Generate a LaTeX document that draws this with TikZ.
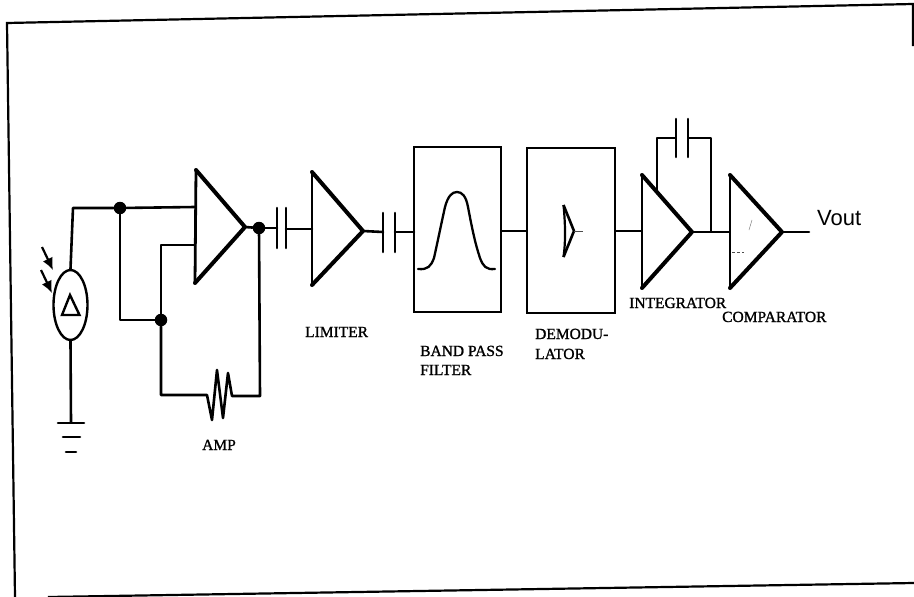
\documentclass[tikz,border=0pt]{standalone}
\usepackage{fontspec}
\setmainfont[FakeBold=1.2]{Liberation Serif}
\newfontfamily\vfont{Liberation Sans}
\usetikzlibrary{arrows.meta,shapes.geometric}
\tikzset{
  wire/.style={line width=2.6pt,line join=round,line cap=round},
  thinwire/.style={line width=2.1pt,line join=round},
  plate/.style={line width=2.6pt,line cap=round},
  amptri/.style={line width=2.8pt,line join=round,line cap=round},
  slant/.style={line width=4pt,line cap=round,line join=round},
  block/.style={draw,line width=2.8pt,minimum width=0pt,inner sep=0pt},
  lbl/.style={anchor=base west,inner sep=0pt,font=\fontsize{15.5}{16}\selectfont},
  dot/.style={circle,fill=black,inner sep=0pt,minimum size=12.5pt},
  frameline/.style={line width=2.2pt,line join=miter},
  ray/.style={line width=2.2pt,-{Latex[length=12pt,width=11pt]}},
}
\begin{document}
\begin{tikzpicture}[x=1pt,y=-1pt]
\useasboundingbox (0,0) rectangle (914,597);
% frame
\coordinate (fTR) at (913,46);
\coordinate (fTRc) at (913,4);
\coordinate (fTL) at (7,23);
\coordinate (fBL) at (15,597);
\coordinate (fBs) at (48,597);
\coordinate (fBR) at (914,583);
\draw[frameline] (fTR) -- (fTRc) -- (fTL) -- (fBL);
\draw[frameline] (fBs) -- (fBR);
% photodiode
\node[draw,line width=2.4pt,ellipse,minimum width=34pt,minimum height=70pt,inner sep=0pt] (pd) at (70.5,305) {};
\coordinate (d1) at (70,295); \coordinate (d2) at (79.5,315); \coordinate (d3) at (62,315);
\draw[line width=2.4pt,line join=miter] (d1) -- (d2) -- (d3) -- cycle;
\coordinate (r1a) at (42,247); \coordinate (r1b) at (53,270);
\coordinate (r2a) at (41,270); \coordinate (r2b) at (52,293);
\draw[ray] (r1a) -- (r1b);
\draw[ray] (r2a) -- (r2b);
% ground
\coordinate (g0) at (71,422);
\coordinate (g1a) at (58,423); \coordinate (g1b) at (84,423);
\coordinate (g2a) at (63,437); \coordinate (g2b) at (80,437);
\coordinate (g3a) at (66,452); \coordinate (g3b) at (76,452);
\draw[wire] (pd.south) -- (g0);
\draw[wire] (g1a) -- (g1b);
\draw[wire] (g2a) -- (g2b);
\draw[wire] (g3a) -- (g3b);
% amp
\coordinate (a1) at (196,170); \coordinate (a2) at (245,227); \coordinate (a3) at (195,283);
\draw[amptri] (a1) -- (a3);
\draw[slant] (a1) -- (a2) -- (a3);
\coordinate (ain1) at (195,207); \coordinate (ain2) at (195,245);
\coordinate (tc) at (73,208);
\node[dot] (j1) at (120,208) {};
\node[dot] (j2) at (161,320) {};
\node[dot] (j3) at (259,228) {};
\draw[wire] (pd.north) -- (tc) -- (j1) -- (ain1);
\draw[wire] (j1) -- (120,320) -- (j2);
\draw[wire] (ain2) -- (161,245) -- (j2);
\draw[wire] (j2) -- (161,395) -- (207,395) -- (212,420) -- (217,370) -- (223,418) -- (228,373) -- (232,396) -- (260,396) -- (j3);
\draw[wire] (a2) -- (j3);
% cap 1
\coordinate (c1a) at (277,208); \coordinate (c1b) at (277,248);
\coordinate (c1c) at (286,208); \coordinate (c1d) at (286,248);
\draw[plate] (c1a) -- (c1b);
\draw[plate] (c1c) -- (c1d);
\draw[wire] (j3) -- (277,228);
% limiter
\coordinate (l1) at (312,172); \coordinate (l2) at (363,231); \coordinate (l3) at (312,285);
\draw[amptri] (l1) -- (l3);
\draw[slant] (l1) -- (l2) -- (l3);
\draw[wire] (286,229) -- (312,229);
% cap 2
\coordinate (c2a) at (383,213); \coordinate (c2b) at (383,252);
\coordinate (c2c) at (395,213); \coordinate (c2d) at (395,252);
\draw[plate] (c2a) -- (c2b);
\draw[plate] (c2c) -- (c2d);
\draw[wire] (l2) -- (383,232);
% band pass
\node[block,minimum width=87pt,minimum height=165pt] (bpf) at (457.5,229.5) {};
\draw[wire] (395,232) -- (414,232);
\coordinate (b0) at (418,269); \coordinate (b1) at (495,269);
\draw[line width=2.3pt,line cap=round] (b0) .. controls (428,270) and (431,266) .. (434,258)
  .. controls (438,240) and (441,225) .. (445,207)
  .. controls (448,196) and (452,192) .. (457,192)
  .. controls (462,192) and (466,196) .. (468,207)
  .. controls (472,228) and (475,243) .. (480,258)
  .. controls (483,266) and (486,270) .. (b1);
% demodulator
\node[block,minimum width=88pt,minimum height=165pt] (dem) at (571,230.5) {};
\draw[wire] (bpf.east |- 0,231) -- (dem.west |- 0,231);
\coordinate (s1) at (563.5,205); \coordinate (s2) at (574,231); \coordinate (s3) at (563.5,257);
\coordinate (s4) at (583,231);
\draw[line width=2.2pt,line join=round] (s1) .. controls (565,220) and (566,240) .. (s3);
\draw[line width=2.6pt,line join=round] (s1) -- (s2) -- (s3);
\draw[line width=0.6pt,black!70] (s2) -- (s4);
% integrator
\coordinate (i1) at (642,175); \coordinate (i2) at (692,232); \coordinate (i3) at (642,288);
\draw[amptri] (i1) -- (i3);
\draw[slant] (i1) -- (i2) -- (i3);
\draw[thinwire] (dem.east |- 0,231) -- (642,231);
% feedback
\coordinate (fb0) at (657,192); \coordinate (fb1) at (657,138);
\coordinate (fb2) at (711,138); \coordinate (fb3) at (711,232);
\coordinate (c3a) at (676,119); \coordinate (c3b) at (676,157);
\coordinate (c3c) at (688,119); \coordinate (c3d) at (688,157);
\draw[plate] (c3a) -- (c3b);
\draw[plate] (c3c) -- (c3d);
\draw[thinwire] (fb0) -- (fb1) -- (676,138);
\draw[thinwire] (688,138) -- (fb2) -- (fb3);
% comparator
\coordinate (k1) at (730,175); \coordinate (k2) at (782,232); \coordinate (k3) at (730,288);
\draw[amptri] (k1) -- (k3);
\draw[slant] (k1) -- (k2) -- (k3);
\draw[thinwire] (i2) -- (730,232);
\coordinate (kd1) at (732,252); \coordinate (kd2) at (744,252);
\draw[line width=0.8pt,dash pattern=on 3pt off 2pt,black!70] (kd1) -- (kd2);
\coordinate (ke1) at (749,230); \coordinate (ke2) at (752,220);
\draw[line width=0.5pt,black!50] (ke1) -- (ke2);
\coordinate (vo) at (809,232);
\draw[wire] (k2) -- (vo);
% labels
\node[anchor=base west,inner sep=0pt,font=\vfont\fontsize{22}{24}\selectfont] (vout) at (817,225) {Vout};
\node[lbl] (lamp) at (202,450) {AMP};
\node[lbl] (llim) at (305,337) {LIMITER};
\node[lbl] (lbp) at (420,356) {BAND PASS};
\node[lbl] (lfi) at (420,375) {FILTER};
\node[lbl] (ldm) at (535,339) {DEMODU-};
\node[lbl] (lla) at (535,359) {LATOR};
\node[lbl] (lin) at (629,308) {INTEGRATOR};
\node[lbl] (lco) at (722,322) {COMPARATOR};
\end{tikzpicture}
\end{document}
